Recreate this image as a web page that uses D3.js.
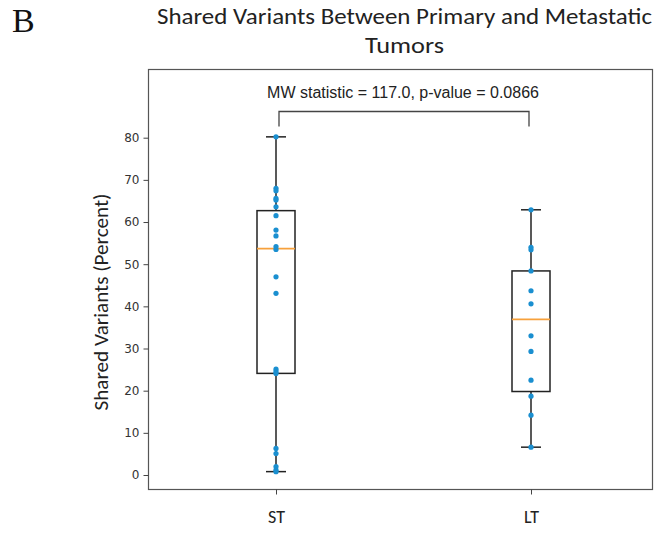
<!DOCTYPE html>
<html><head><meta charset="utf-8">
<script src="https://cdn.jsdelivr.net/npm/d3@7"></script>
<style>body{margin:0;background:#fff}</style>
</head><body>
<svg id="c" width="671" height="533"></svg>
<script>
const categories = ["ST", "LT"];
const stValues = [80.2, 68.0, 67.4, 65.6, 65.2, 63.6, 61.5, 58.1, 56.7, 54.2, 53.5, 47.0, 43.1, 25.1, 24.5, 24.1, 6.3, 5.1, 2.0, 1.2, 0.8];
const ltValues = [62.9, 54.0, 53.4, 48.4, 43.7, 40.6, 33.0, 29.3, 22.5, 18.7, 14.2, 6.6];
const whiskerLow = [0.8, 6.6];
const boxQ1 = [24.1, 19.8];
const boxMedian = [53.7, 36.9];
const boxQ3 = [62.7, 48.4];
const whiskerHigh = [80.2, 62.9];
const yTicks = [0, 10, 20, 30, 40, 50, 60, 70, 80];
const titleLines = ["Shared Variants Between Primary and Metastatic", "Tumors"];
const yLabel = "Shared Variants (Percent)";
const annotation = "MW statistic = 117.0, p-value = 0.0866";
const panelLetter = "B";

const series = [stValues, ltValues];
const svg = d3.select("#c");
const frame = {left: 148.5, right: 652.5, top: 69.5, bottom: 489.5};
const x = d3.scalePoint().domain(categories).range([276, 531]);
const y = d3.scaleLinear().domain([0, 80]).range([475, 137.7]);
const calibri = "Carlito, Lato, 'Open Sans', sans-serif";

// panel letter
svg.append("text").attr("x", 12).attr("y", 32).attr("font-family", "'Liberation Serif', 'Times New Roman', serif")
  .attr("font-size", 34).attr("fill", "#111").text(panelLetter);

// title
svg.selectAll("text.title").data(titleLines).join("text").attr("class", "title")
  .attr("x", 404.5).attr("y", (d, i) => 24 + i * 29).attr("text-anchor", "middle")
  .attr("font-family", calibri).attr("font-size", 23).attr("fill", "#222")
  .each(function(d, i) {
    if (i === 0) d3.select(this).attr("textLength", 495).attr("lengthAdjust", "spacingAndGlyphs");
    else d3.select(this).attr("textLength", 79).attr("lengthAdjust", "spacingAndGlyphs");
  })
  .text(d => d);

// frame
svg.append("rect").attr("x", frame.left).attr("y", frame.top)
  .attr("width", frame.right - frame.left).attr("height", frame.bottom - frame.top)
  .attr("fill", "none").attr("stroke", "#555").attr("stroke-width", 1.2);

// y axis
const yAxis = svg.append("g").attr("transform", `translate(${frame.left},0)`)
  .call(d3.axisLeft(y).tickValues(yTicks).tickSize(5).tickPadding(4));
yAxis.select(".domain").remove();
yAxis.selectAll(".tick line").attr("stroke", "#444");
yAxis.selectAll(".tick text").attr("font-family", "'DejaVu Sans', sans-serif").attr("font-size", 12).attr("fill", "#333");

// x axis
const xAxis = svg.append("g").attr("transform", `translate(0,${frame.bottom})`)
  .call(d3.axisBottom(x).tickSize(5).tickPadding(16));
xAxis.select(".domain").remove();
xAxis.selectAll(".tick line").attr("stroke", "#444");
xAxis.selectAll(".tick text").attr("font-family", calibri).attr("font-size", 18).attr("fill", "#222");

// y label
svg.append("text").attr("transform", "translate(108,302) rotate(-90)").attr("text-anchor", "middle")
  .attr("font-family", calibri).attr("font-size", 20).attr("fill", "#222")
  .attr("textLength", 217).attr("lengthAdjust", "spacingAndGlyphs").text(yLabel);

// boxes
const halfW = 19;
const capW = 10;
const g = svg.append("g");
categories.forEach((c, i) => {
  const cx = x(c);
  g.append("line").attr("x1", cx).attr("x2", cx).attr("y1", y(whiskerLow[i])).attr("y2", y(boxQ1[i])).attr("stroke", "#222").attr("stroke-width", 1.5);
  g.append("line").attr("x1", cx).attr("x2", cx).attr("y1", y(boxQ3[i])).attr("y2", y(whiskerHigh[i])).attr("stroke", "#222").attr("stroke-width", 1.5);
  g.append("line").attr("x1", cx - capW).attr("x2", cx + capW).attr("y1", y(whiskerLow[i])).attr("y2", y(whiskerLow[i])).attr("stroke", "#222").attr("stroke-width", 1.5);
  g.append("line").attr("x1", cx - capW).attr("x2", cx + capW).attr("y1", y(whiskerHigh[i])).attr("y2", y(whiskerHigh[i])).attr("stroke", "#222").attr("stroke-width", 1.5);
  g.append("rect").attr("x", cx - halfW).attr("y", y(boxQ3[i])).attr("width", 2 * halfW)
    .attr("height", y(boxQ1[i]) - y(boxQ3[i])).attr("fill", "none").attr("stroke", "#222").attr("stroke-width", 1.5);
  g.append("line").attr("x1", cx - halfW).attr("x2", cx + halfW).attr("y1", y(boxMedian[i])).attr("y2", y(boxMedian[i])).attr("stroke", "#f7a13c").attr("stroke-width", 1.6);
  g.selectAll(null).data(series[i]).join("circle").attr("cx", cx).attr("cy", d => y(d)).attr("r", 2.6).attr("fill", "#1a8fd0");
});

// annotation bracket
const by = 111.5, bdrop = 15;
svg.append("path").attr("d", `M${x("ST") + 3},${by + bdrop}V${by}H${x("LT") - 2}V${by + bdrop}`)
  .attr("fill", "none").attr("stroke", "#444").attr("stroke-width", 1.3);
svg.append("text").attr("x", 403).attr("y", 98).attr("text-anchor", "middle")
  .attr("font-family", "'Liberation Sans', Arial, sans-serif").attr("font-size", 16).attr("fill", "#222").text(annotation);
</script>
</body></html>
